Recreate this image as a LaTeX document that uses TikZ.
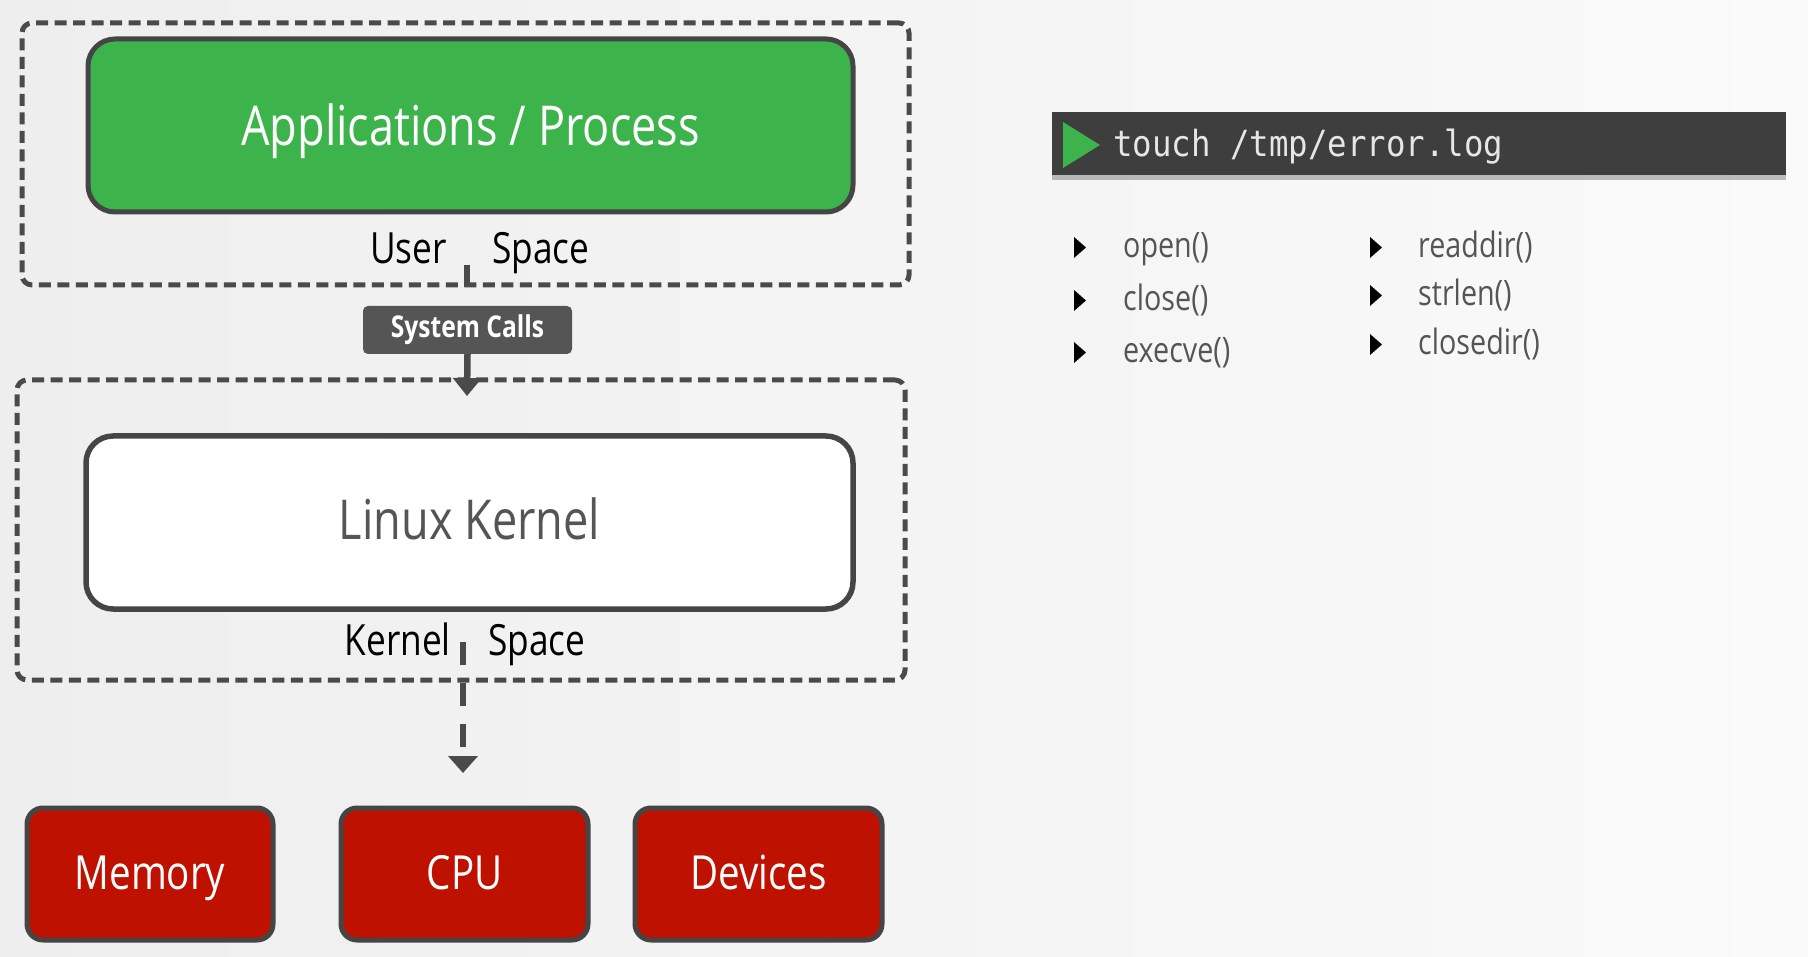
\documentclass[tikz,border=0pt]{standalone}
\usepackage{fontspec}
\setmainfont{Open Sans}[FakeStretch=0.82]
\newfontfamily\termfont{DejaVu Sans Mono}[FakeStretch=0.9]
\usetikzlibrary{fit,arrows.meta,shadows}
\definecolor{dashgray}{HTML}{4A4A4A}
\definecolor{bordergray}{HTML}{454545}
\definecolor{appgreen}{HTML}{3CB44B}
\definecolor{hwred}{HTML}{BF1100}
\definecolor{sysgray}{HTML}{555555}
\definecolor{termgray}{HTML}{3E3E3E}
\definecolor{termtext}{HTML}{E6E6E6}
\definecolor{softtext}{HTML}{555555}
\definecolor{bgleft}{HTML}{EEEEEE}
\definecolor{bgright}{HTML}{FAFAFA}
\begin{document}
\begin{tikzpicture}[x=1pt,y=-1pt,
  dashbox/.style={draw=dashgray, line width=5pt, dash pattern=on 12pt off 6.5pt, rounded corners=10pt, inner sep=0pt},
  appbox/.style={draw=bordergray, fill=appgreen, line width=5pt, rounded corners=27pt, inner sep=0pt},
  kernbox/.style={draw=bordergray, fill=white, line width=5.5pt, rounded corners=27pt, inner sep=0pt},
  hwbox/.style={draw=bordergray, fill=hwred, line width=5pt, rounded corners=16pt, inner sep=0pt},
  sysbox/.style={fill=sysgray, rounded corners=5pt, inner sep=0pt},
  termbox/.style={fill=termgray, inner sep=0pt, drop shadow={shadow xshift=0pt, shadow yshift=-5pt, opacity=0.25, fill=black}},
  bigtext/.style={inner sep=0pt, anchor=base, font=\fontsize{55}{60}\selectfont},
  spacetext/.style={inner sep=0pt, font=\fontsize{43}{48}\selectfont, text=black},
  hwtext/.style={inner sep=0pt, anchor=base, font=\fontsize{47}{52}\selectfont, text=white},
  calltext/.style={inner sep=0pt, anchor=base west, font=\fontsize{35}{40}\selectfont, text=softtext},
  bulletmark/.style={fill=black},
  conn/.style={draw=dashgray, line width=6.5pt},
  dashconn/.style={draw=dashgray, line width=6.5pt, dash pattern=on 23pt off 18pt, -{Triangle[width=29pt,length=17pt]}}
]
% background
\useasboundingbox (0,0) rectangle (1808,957);
\shade[left color=bgleft, right color=bgright] (0,0) rectangle (1808,957);

% user space
\node[dashbox, fit={(22,23) (909,285)}] (userspace) {};
\node[appbox, fit={(88,39) (853,212)}] (app) {};
\node[bigtext, text=white] (apptxt) at (470.5,146) {Applications / Process};
\node[spacetext, anchor=base east] (user) at (447,264) {User};
\node[spacetext, anchor=base west] (uspace) at (492,264) {Space};

% kernel space
\node[dashbox, fit={(17,380) (905,680)}] (kernelspace) {};
\node[kernbox, fit={(86,436) (853,609)}] (kernel) {};
\node[bigtext, text=softtext] (kerntxt) at (469.5,539) {Linux Kernel};
\node[spacetext, anchor=base east] (kword) at (451,655) {Kernel};
\node[spacetext, anchor=base west] (kspace) at (488,655) {Space};

% system calls connector
\coordinate (scstart) at (467,265);
\coordinate (scend) at (467,396);
\node[sysbox, fit={(363,306) (572,354)}] (syscalls) {};
\draw[conn] (scstart) -- (scstart |- userspace.south);
\draw[conn, -{Triangle[width=28pt,length=18pt]}] (syscalls.south) -- (scend);
\node[inner sep=0pt, text=white, font=\bfseries\fontsize{30}{34}\selectfont] (sctxt) at (syscalls.center) {System Calls};

% kernel to hardware connector
\coordinate (kstart) at (463,642);
\coordinate (kend) at (463,773);
\draw[dashconn] (kstart) -- (kend);

% hardware
\node[hwbox, fit={(27,808) (273,940)}] (memory) {};
\node[hwtext] (memtxt) at (150,889) {Memory};
\node[hwbox, fit={(341,808) (588,940)}] (cpu) {};
\node[hwtext] (cputxt) at (464.5,889) {CPU};
\node[hwbox, fit={(635,808) (882,940)}] (devices) {};
\node[hwtext] (devtxt) at (758.5,889) {Devices};

% terminal
\node[termbox, fit={(1052,112) (1786,175)}] (term) {};
\fill[appgreen] (1063,122) -- (1100,145) -- (1063,168) -- cycle;
\node[inner sep=0pt, anchor=base west, text=termtext, font=\termfont\fontsize{36}{40}\selectfont] (cmd) at (1113,157) {touch /tmp/error.log};

% system call list
\fill[bulletmark] (1074,237) -- (1086,247.5) -- (1074,258) -- cycle;
\node[calltext] (c1) at (1123,258) {open()};
\fill[bulletmark] (1074,290) -- (1086,300.5) -- (1074,311) -- cycle;
\node[calltext] (c2) at (1123,311) {close()};
\fill[bulletmark] (1074,342) -- (1086,352.5) -- (1074,363) -- cycle;
\node[calltext] (c3) at (1123,363) {execve()};
\fill[bulletmark] (1370,237) -- (1382,247.5) -- (1370,258) -- cycle;
\node[calltext] (c4) at (1418,258) {readdir()};
\fill[bulletmark] (1370,285) -- (1382,295.5) -- (1370,306) -- cycle;
\node[calltext] (c5) at (1418,306) {strlen()};
\fill[bulletmark] (1370,334) -- (1382,344.5) -- (1370,355) -- cycle;
\node[calltext] (c6) at (1418,355) {closedir()};
\end{tikzpicture}
\end{document}
